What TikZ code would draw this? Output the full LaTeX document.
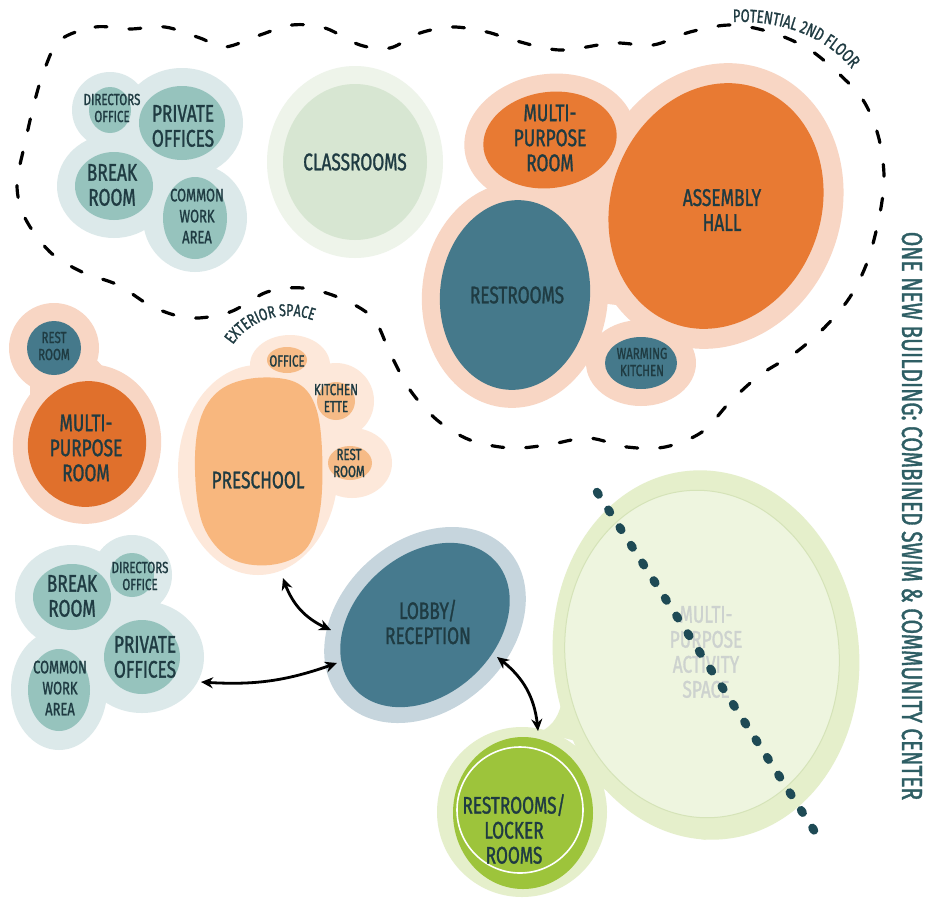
\documentclass[tikz,border=0pt]{standalone}
\usepackage{fontspec}
\setmainfont{Fira Sans}
\newfontfamily\lf[FakeStretch=0.72,FakeBold=1.2]{Fira Sans}
\usetikzlibrary{arrows.meta,shapes.geometric,decorations.text,bending}
\definecolor{txt}{HTML}{1F3B42}
\definecolor{tealout}{HTML}{DCE9EA}
\definecolor{tealin}{HTML}{96C3BD}
\definecolor{clsout}{HTML}{EEF4EA}
\definecolor{clsin}{HTML}{D7E6D2}
\definecolor{peach}{HTML}{F8D6C4}
\definecolor{orng}{HTML}{E87A33}
\definecolor{orngb}{HTML}{E0702C}
\definecolor{blu}{HTML}{45798B}
\definecolor{psout}{HTML}{FDE8DA}
\definecolor{psin}{HTML}{F8B77E}
\definecolor{pssm}{HTML}{F6BB87}
\definecolor{lobout}{HTML}{C6D5DD}
\definecolor{lobin}{HTML}{467A8E}
\definecolor{poolout}{HTML}{E5EFCB}
\definecolor{poolin}{HTML}{EEF5DF}
\definecolor{poolrim}{HTML}{D5E3B8}
\definecolor{lockin}{HTML}{9DC43B}
\definecolor{dotc}{HTML}{1E4A55}
\definecolor{pooltxt}{HTML}{CDD2CF}
\definecolor{ttl}{HTML}{2E5E64}
\begin{document}
\begin{tikzpicture}[x=1pt,y=-1pt,
  bub/.style={ellipse, inner sep=0pt, outer sep=0pt},
  big/.style={font=\lf\fontsize{24}{25}\selectfont, text=txt, align=center, inner sep=0pt},
  mid/.style={font=\lf\fontsize{18}{21}\selectfont, text=txt, align=center, inner sep=0pt},
  sml/.style={font=\lf\fontsize{16}{17}\selectfont, text=txt, align=center, inner sep=0pt},
  arr/.style={line width=2.8pt, {Stealth[length=12pt,width=11pt]}-{Stealth[length=12pt,width=11pt]}},
  floorline/.style={line width=3.2pt, dash pattern=on 12pt off 22pt, line cap=round},
  dotline/.style={line width=8.5pt, dash pattern=on 3pt off 18pt, line cap=round, dotc}
]
\fill[white] (0,0) rectangle (931,908);
\useasboundingbox (0,0) rectangle (931,908);

% ---------- potential 2nd floor boundary
\draw[floorline] plot[smooth cycle, tension=0.55] coordinates {
(60,40) (95,27) (130,29) (165,27) (200,38) (225,47) (260,35) (292,25) (325,28) (360,45) (390,48)
(420,33) (453,27) (487,32) (513,40) (560,50) (613,43) (653,45) (690,32) (730,25) (770,32) (807,48)
(837,72) (863,100) (878,135) (884,175) (880,213) (868,260) (850,297) (825,327) (795,353) (760,375)
(730,402) (702,432) (665,447) (627,447) (588,438) (547,445) (510,448) (470,440) (437,420) (410,390)
(390,353) (373,318) (340,298) (303,288) (267,292) (230,312) (190,318) (153,307) (118,285) (82,272)
(50,252) (25,218) (17,185) (25,143) (35,100) (45,68)};
\path[decorate, decoration={text along path, text align=left,
  text={|\lf\fontsize{18}{18}\selectfont\color{txt}|POTENTIAL 2ND FLOOR}}]
  (733,22) .. controls (790,20) and (838,42) .. (862,84);

% ---------- top-left cluster
\fill[tealout] (110,110) circle[radius=38] (182,123) ellipse[x radius=61,y radius=55]
  (114,186) ellipse[x radius=57,y radius=52] (195,218) ellipse[x radius=52,y radius=54]
  (155,170) circle[radius=55];
\node[bub, fill=tealin, minimum width=42pt, minimum height=46pt] (tlDir) at (110,110) {};
\node[bub, fill=tealin, minimum width=86pt, minimum height=74pt] (tlPriv) at (182,123) {};
\node[bub, fill=tealin, minimum width=78pt, minimum height=68pt] (tlBreak) at (114,186) {};
\node[bub, fill=tealin, minimum width=64pt, minimum height=82pt] (tlCom) at (195,218) {};
\node[sml] (tlDirL) at (112,108) {DIRECTORS\\OFFICE};
\node[big] (tlPrivL) at (183,126) {PRIVATE\\OFFICES};
\node[big] (tlBreakL) at (112,185) {BREAK\\ROOM};
\node[mid] (tlComL) at (197,216) {COMMON\\WORK\\AREA};

% ---------- classrooms
\fill[clsout] (355,162) ellipse[x radius=88,y radius=96];
\node[bub, fill=clsin, minimum width=144pt, minimum height=156pt] (cls) at (355,162) {};
\node[big] (clsL) at (355,162) {CLASSROOMS};

% ---------- top-right cluster
\fill[peach, rotate around={8:(550,140)}] (550,140) ellipse[x radius=86,y radius=66];
\fill[peach, rotate around={-20:(716,206)}] (716,206) ellipse[x radius=125,y radius=145];
\fill[peach, rotate around={-5:(515,295)}] (515,295) ellipse[x radius=93,y radius=113];
\fill[peach] (641,363) ellipse[x radius=55,y radius=43] (620,240) circle[radius=65];
\node[bub, fill=orng, rotate=8, minimum width=134pt, minimum height=96pt] (trMulti) at (550,140) {};
\node[bub, fill=orng, rotate=-20, minimum width=210pt, minimum height=250pt] (trAsm) at (716,206) {};
\node[bub, fill=blu, rotate=-5, minimum width=150pt, minimum height=190pt] (trRest) at (515,295) {};
\node[bub, fill=blu, minimum width=72pt, minimum height=52pt] (trWarm) at (641,363) {};
\node[big] (trMultiL) at (550,138) {MULTI-\\PURPOSE\\ROOM};
\node[big] (trAsmL) at (722,210) {ASSEMBLY\\HALL};
\node[big] (trRestL) at (517,295) {RESTROOMS};
\node[sml] (trWarmL) at (642,362) {WARMING\\KITCHEN};

% ---------- middle-left cluster
\fill[peach] (54,348) circle[radius=45];
\fill[peach, rotate around={-10:(87,444)}] (87,444) ellipse[x radius=74,y radius=80];
\fill[peach] (70,390) circle[radius=40];
\node[bub, fill=blu, minimum width=54pt, minimum height=54pt] (mlRest) at (54,348) {};
\node[bub, fill=orngb, rotate=-10, minimum width=118pt, minimum height=126pt] (mlMulti) at (87,444) {};
\node[sml] (mlRestL) at (54,346) {REST\\ROOM};
\node[big] (mlMultiL) at (86,448) {MULTI-\\PURPOSE\\ROOM};

% ---------- preschool cluster
\fill[psout] (258,470) ellipse[x radius=80,y radius=105] (290,365) ellipse[x radius=40,y radius=30]
  (336,401) circle[radius=38] (352,463) ellipse[x radius=40,y radius=35] (300,430) circle[radius=50];
\fill[psin] plot[smooth cycle, tension=0.6] coordinates {(255,378) (295,382) (315,405) (322,450)
  (320,510) (305,550) (270,565) (230,558) (203,525) (195,470) (200,420) (220,390)};
\node[bub, fill=pssm, minimum width=40pt, minimum height=26pt] (psOff) at (287,360) {};
\node[bub, fill=pssm, minimum width=38pt, minimum height=38pt] (psKit) at (336,401) {};
\node[bub, fill=pssm, minimum width=44pt, minimum height=34pt] (psRest) at (350,463) {};
\node[big] (psL) at (258,480) {PRESCHOOL};
\node[sml] (psOffL) at (287,361) {OFFICE};
\node[sml] (psKitL) at (336,398) {KITCHEN\\ETTE};
\node[sml] (psRestL) at (349,463) {REST\\ROOM};
\path[decorate, decoration={text along path, text align=center,
  text={|\lf\fontsize{17}{17}\selectfont\color{txt}|EXTERIOR SPACE}}]
  (222,372) .. controls (232,316) and (298,298) .. (338,336);

% ---------- bottom-left cluster
\fill[tealout] (72,597) ellipse[x radius=57,y radius=52] (132,575) circle[radius=40]
  (142,657) ellipse[x radius=62,y radius=56] (59,690) ellipse[x radius=48,y radius=60]
  (105,650) circle[radius=50];
\node[bub, fill=tealin, minimum width=78pt, minimum height=66pt] (blBreak) at (72,597) {};
\node[bub, fill=tealin, minimum width=44pt, minimum height=44pt] (blDir) at (132,575) {};
\node[bub, fill=tealin, minimum width=76pt, minimum height=74pt] (blPriv) at (142,657) {};
\node[bub, fill=tealin, minimum width=62pt, minimum height=82pt] (blCom) at (59,690) {};
\node[big] (blBreakL) at (72,596) {BREAK\\ROOM};
\node[sml] (blDirL) at (140,576) {DIRECTORS\\OFFICE};
\node[big] (blPrivL) at (145,657) {PRIVATE\\OFFICES};
\node[mid] (blComL) at (60,688) {COMMON\\WORK\\AREA};

% ---------- lobby
\fill[lobout, rotate around={42:(425,625)}] (425,625) ellipse[x radius=112,y radius=85];
\node[bub, fill=lobin, rotate=42, minimum width=190pt, minimum height=140pt] (lobby) at (425,625) {};
\node[big] (lobbyL) at (428,622) {LOBBY/\\RECEPTION};

% ---------- pool / multipurpose activity
\fill[poolout, rotate around={6:(706,655)}] (706,655) ellipse[x radius=153,y radius=185];
\fill[poolout] (522,812) circle[radius=85];
\fill[poolout] (598,785) .. controls (630,805) and (660,832) .. (706,840) -- (640,780) -- cycle;
\fill[poolout] (540,732) .. controls (555,725) and (560,712) .. (562,700) -- (592,745) -- cycle;
\node[bub, fill=poolin, draw=poolrim, line width=1pt, rotate=6, minimum width=274pt, minimum height=328pt] (pool) at (702,654) {};
\node[bub, fill=lockin, minimum width=140pt, minimum height=152pt] (lock) at (523,813) {};
\draw[white, line width=1.6pt] (520,810) circle[radius=63];
\node[font=\lf\fontsize{24}{25}\selectfont, text=pooltxt, align=center, inner sep=0pt] (poolL) at (706,652) {MULTI-\\PURPOSE\\ACTIVITY\\SPACE};
\node[big] (lockL) at (514,829) {RESTROOMS/\\LOCKER\\ROOMS};
\coordinate (d1) at (597,492);
\coordinate (d2) at (817,835);
\draw[dotline] (d1) -- (d2);

% ---------- arrows
\coordinate (a1) at (283,578);
\coordinate (a2) at (331,630);
\coordinate (a3) at (201,682);
\coordinate (a4) at (337,663);
\coordinate (a5) at (497,657);
\coordinate (a6) at (538,731);
\draw[arr] (a1) to[bend right=25] (a2);
\draw[arr] (a3) to[bend right=12] (a4);
\draw[arr] (a5) to[bend left=25] (a6);

% ---------- title
\node[rotate=-90, font=\lf\fontsize{29}{29}\selectfont, text=ttl, inner sep=0pt] (title) at (912,516)
  {ONE NEW BUILDING: COMBINED SWIM \& COMMUNITY CENTER};
\end{tikzpicture}
\end{document}
